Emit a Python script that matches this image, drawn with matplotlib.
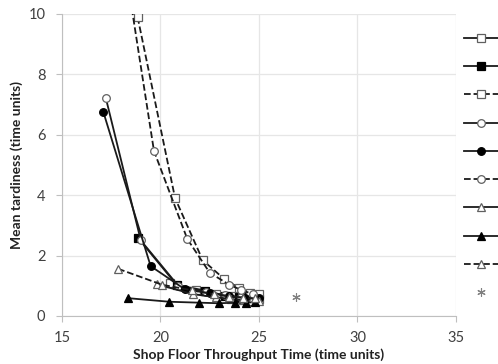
import matplotlib.pyplot as plt

# x = shop floor throughput time, y = mean tardiness
sq_open_x = [20.5, 21.8, 22.8, 23.6, 24.2, 24.7, 25.0]
sq_open_y = [1.10, 0.85, 0.72, 0.65, 0.60, 0.58, 0.56]
sq_fill_x = [18.86, 20.82, 22.26, 23.3, 24.0, 24.46, 24.88]
sq_fill_y = [2.58, 1.03, 0.84, 0.67, 0.62, 0.66, 0.66]
sq_dash_x = [18.84, 20.74, 22.14, 23.24, 24.0, 24.54, 25.0]
sq_dash_y = [9.89, 3.90, 1.85, 1.22, 0.92, 0.75, 0.72]

ci_open_x = [17.23, 19.0, 20.9, 22.3, 23.3, 24.1, 24.8]
ci_open_y = [7.20, 2.50, 1.00, 0.80, 0.68, 0.62, 0.60]
ci_fill_x = [17.1, 19.5, 21.24, 22.5, 23.5, 24.3, 25.0]
ci_fill_y = [6.75, 1.65, 0.88, 0.75, 0.66, 0.60, 0.58]
ci_dash_x = [18.3, 19.67, 21.36, 22.5, 23.5, 24.1, 24.7]
ci_dash_y = [11.2, 5.46, 2.55, 1.43, 1.03, 0.86, 0.72]

tr_open_x = [19.8, 21.67, 22.8, 23.6, 24.2, 24.6, 25.0]
tr_open_y = [1.05, 0.72, 0.62, 0.56, 0.52, 0.50, 0.50]
tr_fill_x = [18.33, 20.45, 21.95, 22.98, 23.8, 24.36, 24.82]
tr_fill_y = [0.59, 0.47, 0.44, 0.42, 0.44, 0.44, 0.46]
tr_dash_x = [17.85, 20.1, 21.6, 22.7, 23.5, 24.2, 24.8]
tr_dash_y = [1.56, 1.03, 0.85, 0.72, 0.64, 0.60, 0.58]

star_x = [26.9]
star_y = [0.62]

x_ticks = [15, 20, 25, 30, 35]
y_ticks = [0, 2, 4, 6, 8, 10]

plt.rcParams['font.family'] = ['Lato', 'DejaVu Sans']

fig = plt.figure(figsize=(4.98, 3.64), dpi=100)
ax = fig.add_axes([0.1245, 0.132, 0.791, 0.83])

dark = '#1a1a1a'
grey = '#606060'
series = [
    (sq_open_x, sq_open_y, 's', '-', 'white', grey),
    (sq_fill_x, sq_fill_y, 's', '-', 'black', 'black'),
    (sq_dash_x, sq_dash_y, 's', '--', 'white', grey),
    (ci_open_x, ci_open_y, 'o', '-', 'white', grey),
    (ci_fill_x, ci_fill_y, 'o', '-', 'black', 'black'),
    (ci_dash_x, ci_dash_y, 'o', '--', 'white', grey),
    (tr_open_x, tr_open_y, '^', '-', 'white', grey),
    (tr_fill_x, tr_fill_y, '^', '-', 'black', 'black'),
    (tr_dash_x, tr_dash_y, '^', '--', 'white', grey),
]
handles = []
for xs, ys, m, ls, fc, ec in series:
    h, = ax.plot(xs, ys, linestyle=ls, color=dark, linewidth=1.3,
                 marker=m, markersize=5.5, markerfacecolor=fc,
                 markeredgecolor=ec, markeredgewidth=0.9, zorder=3)
    handles.append(h)
h, = ax.plot(star_x, star_y, linestyle='none', marker=(6, 2, 0), markersize=6,
             color='#808080', markeredgewidth=0.8)
handles.append(h)

ax.set_xlim(15, 35)
ax.set_ylim(0, 10)
ax.set_xticks(x_ticks)
ax.set_yticks(y_ticks)
ax.grid(True, color='#e6e6e6', linewidth=0.9)
ax.set_axisbelow(True)
for side in ['top', 'right']:
    ax.spines[side].set_visible(False)
for side in ['left', 'bottom']:
    ax.spines[side].set_color('#bfbfbf')
ax.tick_params(colors='#bfbfbf', labelcolor='#404040', labelsize=10.5, length=4)
ax.tick_params(axis='x', pad=7)
ax.tick_params(axis='y', pad=8)
ax.set_xlabel('Shop Floor Throughput Time (time units)', fontsize=10,
              fontweight='bold', color='#222222', labelpad=2)
ax.set_ylabel('Mean tardiness (time units)', fontsize=10,
              fontweight='bold', color='#222222', labelpad=4)

fig.legend(handles, [''] * len(handles), loc='upper left',
           bbox_to_anchor=(0.921, 0.925), frameon=False, fontsize=10,
           handlelength=2.45, labelspacing=1.17, handletextpad=0,
           borderaxespad=0)

fig.savefig('out.png', dpi=100)
